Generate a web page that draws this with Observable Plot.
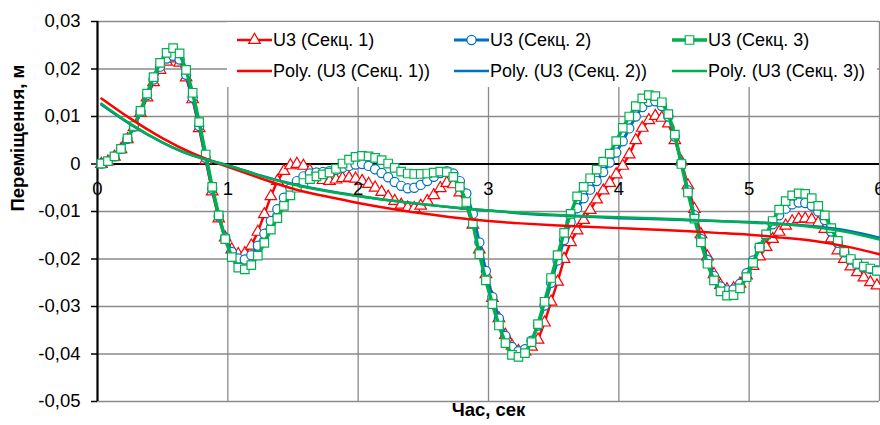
<!DOCTYPE html>
<html><head><meta charset="utf-8">
<script src="https://cdn.jsdelivr.net/npm/d3@7"></script>
<script src="https://cdn.jsdelivr.net/npm/@observablehq/plot@0.6"></script>
<style>body{margin:0;background:#fff;}</style>
</head><body><div id="chart"></div>
<script>
// time grid of the sampled series
const T0 = 0.03, DT = 0.05;

const sek1 = [0.0000,0.0005,0.0015,0.0031,0.0052,0.0077,0.0107,0.0140,0.0172,0.0198,
0.0215,0.0222,0.0213,0.0182,0.0136,0.0075,0.0008,-0.0058,-0.0115,-0.0155,
-0.0180,-0.0190,-0.0188,-0.0172,-0.0143,-0.0106,-0.0068,-0.0036,-0.0015,-0.0003,
0.0000,-0.0004,-0.0014,-0.0026,-0.0034,-0.0036,-0.0033,-0.0030,-0.0029,-0.0031,
-0.0036,-0.0042,-0.0050,-0.0059,-0.0069,-0.0078,-0.0086,-0.0092,-0.0093,-0.0088,
-0.0078,-0.0066,-0.0051,-0.0040,-0.0043,-0.0060,-0.0088,-0.0128,-0.0180,-0.0232,
-0.0282,-0.0325,-0.0360,-0.0383,-0.0394,-0.0395,-0.0385,-0.0370,-0.0334,-0.0290,
-0.0248,-0.0200,-0.0165,-0.0140,-0.0118,-0.0097,-0.0075,-0.0056,-0.0040,-0.0022,
-0.0004,0.0020,0.0050,0.0076,0.0092,0.0101,0.0097,0.0085,0.0050,0.0005,
-0.0045,-0.0095,-0.0148,-0.0195,-0.0232,-0.0255,-0.0264,-0.0262,-0.0252,-0.0235,
-0.0215,-0.0195,-0.0175,-0.0158,-0.0143,-0.0130,-0.0121,-0.0116,-0.0115,-0.0117,
-0.0124,-0.0137,-0.0157,-0.0182,-0.0200,-0.0216,-0.0228,-0.0239,-0.0249,-0.0256];

const sek2 = [0.0001,0.0006,0.0016,0.0032,0.0053,0.0079,0.0110,0.0145,0.0178,0.0205,
0.0222,0.0228,0.0220,0.0188,0.0140,0.0080,0.0013,-0.0052,-0.0110,-0.0155,
-0.0185,-0.0199,-0.0201,-0.0192,-0.0172,-0.0147,-0.0120,-0.0095,-0.0071,-0.0051,
-0.0036,-0.0026,-0.0020,-0.0018,-0.0017,-0.0015,-0.0012,-0.0008,-0.0004,-0.0001,
0.0000,-0.0004,-0.0011,-0.0019,-0.0028,-0.0038,-0.0046,-0.0051,-0.0050,-0.0044,
-0.0036,-0.0027,-0.0019,-0.0015,-0.0020,-0.0036,-0.0062,-0.0105,-0.0165,-0.0225,
-0.0280,-0.0325,-0.0362,-0.0385,-0.0394,-0.0390,-0.0372,-0.0340,-0.0298,-0.0250,
-0.0203,-0.0160,-0.0122,-0.0093,-0.0072,-0.0054,-0.0036,-0.0017,0.0003,0.0024,
0.0048,0.0075,0.0100,0.0120,0.0131,0.0132,0.0122,0.0100,0.0058,0.0002,
-0.0055,-0.0108,-0.0158,-0.0202,-0.0236,-0.0258,-0.0266,-0.0264,-0.0252,-0.0230,
-0.0203,-0.0175,-0.0150,-0.0127,-0.0108,-0.0094,-0.0085,-0.0081,-0.0082,-0.0088,
-0.0100,-0.0118,-0.0142,-0.0166,-0.0186,-0.0201,-0.0211,-0.0217,-0.0221,-0.0224];

const sek3 = [0.0001,0.0006,0.0016,0.0032,0.0054,0.0080,0.0112,0.0148,0.0183,0.0213,
0.0234,0.0244,0.0233,0.0198,0.0150,0.0088,0.0020,-0.0048,-0.0108,-0.0158,
-0.0196,-0.0218,-0.0222,-0.0213,-0.0193,-0.0166,-0.0138,-0.0114,-0.0088,-0.0066,
-0.0050,-0.0040,-0.0032,-0.0026,-0.0022,-0.0018,-0.0010,0.0001,0.0009,0.0015,
0.0017,0.0016,0.0013,0.0008,0.0001,-0.0008,-0.0016,-0.0020,-0.0021,-0.0021,
-0.0020,-0.0018,-0.0016,-0.0017,-0.0027,-0.0048,-0.0080,-0.0125,-0.0190,-0.0245,
-0.0295,-0.0340,-0.0377,-0.0402,-0.0406,-0.0398,-0.0375,-0.0337,-0.0290,-0.0240,
-0.0192,-0.0145,-0.0105,-0.0068,-0.0048,-0.0030,-0.0012,0.0005,0.0022,0.0048,
0.0076,0.0100,0.0122,0.0138,0.0145,0.0143,0.0130,0.0105,0.0062,0.0000,
-0.0060,-0.0115,-0.0165,-0.0210,-0.0245,-0.0268,-0.0277,-0.0276,-0.0262,-0.0238,
-0.0208,-0.0176,-0.0148,-0.0120,-0.0096,-0.0078,-0.0066,-0.0062,-0.0063,-0.0072,
-0.0088,-0.0108,-0.0135,-0.0162,-0.0185,-0.0200,-0.0210,-0.0216,-0.0220,-0.0225];

// polynomial trend lines
const polyT = [0.03,0.25,0.5,0.75,1.0,1.25,1.5,1.75,2.0,2.25,2.5,2.75,3.0,3.25,3.5,3.75,4.0,4.25,4.5,4.75,5.0,5.25,5.5,5.75,6.0];
const poly1 = [0.0138,0.0096,0.0054,0.0020,-0.0006,-0.0030,-0.0052,-0.0068,-0.0082,-0.0094,-0.0104,-0.0113,-0.0120,-0.0125,-0.0129,-0.0132,-0.0135,-0.0138,-0.0141,-0.0145,-0.0149,-0.0155,-0.0162,-0.0174,-0.0190];
const poly2 = [0.0125,0.0084,0.0045,0.0016,-0.0003,-0.0024,-0.0042,-0.0056,-0.0067,-0.0077,-0.0085,-0.0092,-0.0098,-0.0104,-0.0108,-0.0111,-0.0114,-0.0116,-0.0118,-0.0120,-0.0122,-0.0126,-0.0131,-0.0140,-0.0155];
const poly3 = [0.0127,0.0085,0.0045,0.0016,-0.0003,-0.0025,-0.0043,-0.0057,-0.0068,-0.0077,-0.0085,-0.0092,-0.0098,-0.0103,-0.0107,-0.0110,-0.0112,-0.0114,-0.0117,-0.0120,-0.0123,-0.0127,-0.0133,-0.0143,-0.0159];

const seriesNames = ["U3 (Секц. 1)", "U3 (Секц. 2)", "U3 (Секц. 3)"];
const polyNames = ["Poly. (U3 (Секц. 1))", "Poly. (U3 (Секц. 2))", "Poly. (U3 (Секц. 3))"];
const colors = ["#ff0000", "#0070c0", "#00b050"];
const symbols = ["triangle", "circle", "square"];
const xTicks = [0, 1, 2, 3, 4, 5, 6];
const xLabels = ["0", "1", "2", "3", "4", "5", "6"];
const yTicks = [-0.05, -0.04, -0.03, -0.02, -0.01, 0, 0.01, 0.02, 0.03];
const yLabels = ["-0,05", "-0,04", "-0,03", "-0,02", "-0,01", "0", "0,01", "0,02", "0,03"];
const xTitle = "Час, сек";
const yTitle = "Переміщення, м";

const rows = s => s.map((v, i) => ({t: T0 + i * DT, v}));
const prow = s => s.map((v, i) => ({t: polyT[i], v}));
const seriesData = [sek1, sek2, sek3].map(rows);
const polyData = [poly1, poly2, poly3].map(prow);
const lineW = [2.5, 3, 3.5];
const symR = [4.3, 4.6, 4.8];

const marks = [
  Plot.gridY(yTicks, {stroke: "#8a8a8a", strokeOpacity: 1, strokeWidth: 1.3}),
  Plot.gridX(xTicks.slice(1), {stroke: "#8a8a8a", strokeOpacity: 1, strokeWidth: 1.3}),
  Plot.ruleY([0], {stroke: "black", strokeWidth: 2}),
  Plot.ruleX([0], {stroke: "black", strokeWidth: 2.2}),
  Plot.axisY(yTicks, {tickSize: 6, tickPadding: 11, label: null, tickFormat: (d) => yLabels[yTicks.indexOf(d)], fontSize: 18.5, stroke: "black", strokeWidth: 1.5})
];
seriesData.forEach((d, i) => {
  marks.push(Plot.line(d, {x: "t", y: "v", stroke: colors[i], strokeWidth: lineW[i]}));
  marks.push(Plot.dot(d, {x: "t", y: "v", symbol: symbols[i], r: symR[i], stroke: colors[i], fill: "white", strokeWidth: 1.2}));
});
polyData.forEach((d, i) => {
  marks.push(Plot.line(d, {x: "t", y: "v", stroke: colors[i], strokeWidth: 2.5, curve: "natural"}));
});
marks.push(Plot.text(xTicks, {x: d => d, y: 0, text: (d, i) => xLabels[i], dy: 25, fontSize: 18.5, fill: "black"}));
marks.push(Plot.text([yTitle], {frameAnchor: "left", text: d => d, rotate: -90, dx: -79, fontSize: 18.5, fontWeight: "bold", fill: "black"}));
marks.push(Plot.text([xTitle], {frameAnchor: "bottom", text: d => d, dy: 14, fontSize: 18.5, fontWeight: "bold", fill: "black"}));

const plot = Plot.plot({
  width: 880, height: 425,
  marginLeft: 97, marginRight: 1, marginTop: 21, marginBottom: 24,
  style: {fontFamily: "'Liberation Sans', Arial, sans-serif", fontSize: "18px", background: "white", color: "black"},
  x: {domain: [0, 6], axis: null},
  y: {domain: [-0.05, 0.03], label: null},
  marks
});
document.getElementById("chart").appendChild(plot);

// legend
const svg = d3.select(plot);
const lg = svg.append("g").attr("font-family", "'Liberation Sans', Arial, sans-serif").attr("font-size", 18).attr("text-anchor", "start");
lg.append("rect").attr("x", 227).attr("y", 22).attr("width", 650).attr("height", 65).attr("fill", "white");
const colX = [237, 454, 672];
seriesNames.forEach((name, i) => {
  const x0 = colX[i];
  lg.append("line").attr("x1", x0).attr("x2", x0 + 35).attr("y1", 40).attr("y2", 40).attr("stroke", colors[i]).attr("stroke-width", lineW[i]);
  const symType = [d3.symbolTriangle, d3.symbolCircle, d3.symbolSquare][i];
  lg.append("path").attr("d", d3.symbol(symType, Math.PI * symR[i] * symR[i])()).attr("transform", `translate(${x0 + 17.5},40)`)
    .attr("fill", "white").attr("stroke", colors[i]).attr("stroke-width", 1.2);
  lg.append("text").attr("x", x0 + 36).attr("y", 40).attr("dy", "0.35em").attr("fill", "black").text(name);
  lg.append("line").attr("x1", x0).attr("x2", x0 + 35).attr("y1", 71).attr("y2", 71).attr("stroke", colors[i]).attr("stroke-width", 2.5);
  lg.append("text").attr("x", x0 + 36).attr("y", 71).attr("dy", "0.35em").attr("fill", "black").text(polyNames[i]);
});
</script>
</body></html>
